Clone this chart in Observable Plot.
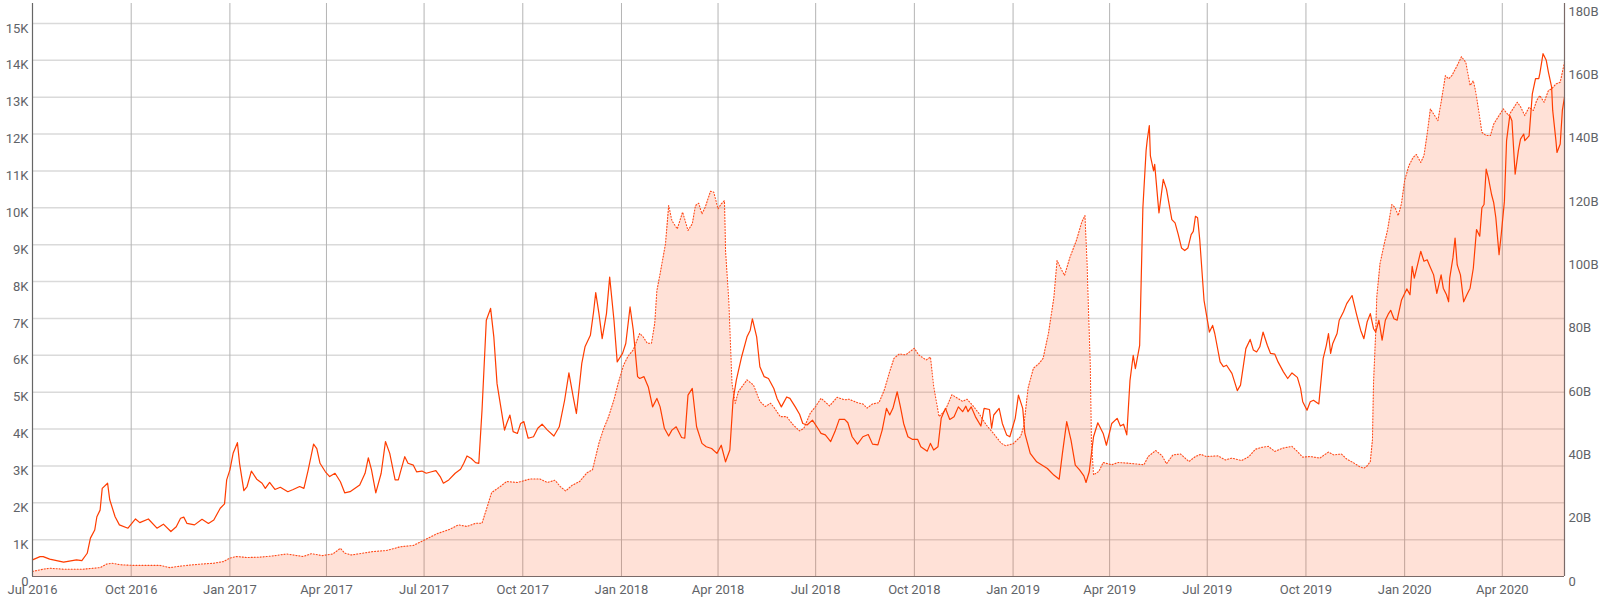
<!DOCTYPE html>
<html><head><meta charset="utf-8">
<script src="https://cdn.jsdelivr.net/npm/d3@7"></script>
<script src="https://cdn.jsdelivr.net/npm/@observablehq/plot@0.6"></script>
<style>body{margin:0;background:#fff;font-family:Roboto,sans-serif}</style>
</head><body><div id="chart"></div>
<script>
// Left-axis series (solid line), values in thousands
const lineDates = ["2016-07-01","2016-07-08","2016-07-11","2016-07-17","2016-07-30","2016-08-11","2016-08-16","2016-08-21","2016-08-24","2016-08-28","2016-08-30","2016-09-02","2016-09-04","2016-09-09","2016-09-11","2016-09-16","2016-09-20","2016-09-28","2016-10-05","2016-10-09","2016-10-17","2016-10-25","2016-10-31","2016-11-07","2016-11-12","2016-11-16","2016-11-19","2016-11-22","2016-11-29","2016-12-06","2016-12-12","2016-12-17","2016-12-23","2016-12-27","2016-12-29","2017-01-01","2017-01-04","2017-01-08","2017-01-10","2017-01-14","2017-01-17","2017-01-21","2017-01-26","2017-01-31","2017-02-03","2017-02-07","2017-02-12","2017-02-17","2017-02-24","2017-03-01","2017-03-07","2017-03-11","2017-03-15","2017-03-20","2017-03-23","2017-03-26","2017-03-31","2017-04-04","2017-04-09","2017-04-14","2017-04-18","2017-04-23","2017-05-02","2017-05-07","2017-05-10","2017-05-13","2017-05-17","2017-05-22","2017-05-26","2017-05-30","2017-06-04","2017-06-07","2017-06-09","2017-06-13","2017-06-16","2017-06-21","2017-06-24","2017-06-29","2017-07-03","2017-07-08","2017-07-12","2017-07-16","2017-07-19","2017-07-24","2017-07-30","2017-08-04","2017-08-07","2017-08-10","2017-08-14","2017-08-18","2017-08-21","2017-08-24","2017-08-28","2017-09-01","2017-09-04","2017-09-07","2017-09-10","2017-09-14","2017-09-16","2017-09-19","2017-09-22","2017-09-26","2017-09-29","2017-10-02","2017-10-06","2017-10-11","2017-10-15","2017-10-19","2017-10-24","2017-10-30","2017-11-04","2017-11-09","2017-11-13","2017-11-17","2017-11-20","2017-11-25","2017-11-28","2017-12-03","2017-12-06","2017-12-08","2017-12-11","2017-12-14","2017-12-18","2017-12-21","2017-12-25","2017-12-28","2018-01-02","2018-01-05","2018-01-09","2018-01-12","2018-01-16","2018-01-18","2018-01-22","2018-01-26","2018-01-30","2018-02-03","2018-02-06","2018-02-10","2018-02-14","2018-02-17","2018-02-21","2018-02-26","2018-03-01","2018-03-04","2018-03-08","2018-03-12","2018-03-17","2018-03-21","2018-03-26","2018-03-31","2018-04-04","2018-04-08","2018-04-12","2018-04-15","2018-04-18","2018-04-23","2018-04-28","2018-05-01","2018-05-03","2018-05-07","2018-05-10","2018-05-14","2018-05-18","2018-05-23","2018-05-26","2018-05-30","2018-06-04","2018-06-07","2018-06-12","2018-06-16","2018-06-19","2018-06-23","2018-06-28","2018-07-03","2018-07-06","2018-07-10","2018-07-15","2018-07-19","2018-07-23","2018-07-28","2018-07-31","2018-08-04","2018-08-09","2018-08-14","2018-08-19","2018-08-23","2018-08-28","2018-09-01","2018-09-05","2018-09-08","2018-09-11","2018-09-15","2018-09-18","2018-09-21","2018-09-25","2018-09-29","2018-10-04","2018-10-07","2018-10-13","2018-10-16","2018-10-19","2018-10-23","2018-10-26","2018-10-30","2018-11-03","2018-11-07","2018-11-11","2018-11-15","2018-11-18","2018-11-20","2018-11-23","2018-11-27","2018-12-02","2018-12-05","2018-12-10","2018-12-12","2018-12-14","2018-12-19","2018-12-22","2018-12-26","2018-12-29","2019-01-03","2019-01-06","2019-01-10","2019-01-12","2019-01-17","2019-01-23","2019-02-02","2019-02-08","2019-02-13","2019-02-16","2019-02-20","2019-02-24","2019-02-28","2019-03-04","2019-03-08","2019-03-10","2019-03-13","2019-03-17","2019-03-21","2019-03-26","2019-03-29","2019-04-03","2019-04-08","2019-04-11","2019-04-14","2019-04-17","2019-04-20","2019-04-23","2019-04-25","2019-04-29","2019-04-30","2019-05-02","2019-05-05","2019-05-06","2019-05-08","2019-05-09","2019-05-12","2019-05-13","2019-05-16","2019-05-17","2019-05-21","2019-05-24","2019-05-29","2019-06-01","2019-06-04","2019-06-07","2019-06-10","2019-06-13","2019-06-16","2019-06-18","2019-06-20","2019-06-22","2019-06-24","2019-06-28","2019-07-03","2019-07-06","2019-07-08","2019-07-13","2019-07-16","2019-07-19","2019-07-24","2019-07-27","2019-07-29","2019-08-01","2019-08-04","2019-08-06","2019-08-10","2019-08-13","2019-08-16","2019-08-19","2019-08-22","2019-08-26","2019-08-29","2019-09-02","2019-09-05","2019-09-10","2019-09-14","2019-09-18","2019-09-23","2019-09-26","2019-09-28","2019-10-02","2019-10-05","2019-10-08","2019-10-13","2019-10-17","2019-10-20","2019-10-22","2019-10-24","2019-10-26","2019-10-30","2019-11-01","2019-11-05","2019-11-08","2019-11-13","2019-11-17","2019-11-21","2019-11-24","2019-11-27","2019-11-30","2019-12-03","2019-12-05","2019-12-08","2019-12-11","2019-12-14","2019-12-17","2019-12-19","2019-12-22","2019-12-25","2019-12-29","2020-01-03","2020-01-06","2020-01-08","2020-01-10","2020-01-13","2020-01-16","2020-01-19","2020-01-22","2020-01-24","2020-01-28","2020-01-31","2020-02-04","2020-02-06","2020-02-09","2020-02-11","2020-02-12","2020-02-15","2020-02-17","2020-02-19","2020-02-22","2020-02-25","2020-02-28","2020-03-02","2020-03-05","2020-03-08","2020-03-11","2020-03-13","2020-03-15","2020-03-17","2020-03-19","2020-03-22","2020-03-24","2020-03-26","2020-03-29","2020-03-31","2020-04-03","2020-04-05","2020-04-08","2020-04-10","2020-04-13","2020-04-16","2020-04-18","2020-04-21","2020-04-22","2020-04-26","2020-04-29","2020-05-02","2020-05-05","2020-05-06","2020-05-09","2020-05-12","2020-05-14","2020-05-17","2020-05-18","2020-05-21","2020-05-22","2020-05-25","2020-05-27","2020-05-29"];
const lineValues = [0.45,0.54,0.54,0.47,0.39,0.45,0.43,0.63,1.04,1.26,1.62,1.80,2.39,2.53,2.08,1.62,1.40,1.31,1.56,1.46,1.56,1.31,1.42,1.22,1.35,1.58,1.61,1.44,1.40,1.55,1.44,1.53,1.85,1.97,2.62,2.89,3.34,3.63,3.07,2.33,2.44,2.86,2.64,2.53,2.39,2.55,2.36,2.42,2.30,2.36,2.44,2.39,2.89,3.59,3.47,3.07,2.84,2.71,2.80,2.57,2.27,2.30,2.48,2.80,3.22,2.89,2.27,2.80,3.66,3.34,2.62,2.62,2.84,3.25,3.07,3.02,2.84,2.86,2.80,2.84,2.87,2.71,2.53,2.62,2.80,2.91,3.07,3.27,3.20,3.09,3.07,4.51,6.95,7.27,6.50,5.23,4.69,3.97,4.15,4.38,3.93,3.88,4.15,4.20,3.75,3.79,4.02,4.13,3.97,3.81,4.06,4.78,5.52,4.87,4.42,5.78,6.23,6.54,7.18,7.70,7.13,6.45,7.13,8.12,6.95,5.82,6.05,6.32,7.31,6.68,5.42,5.37,5.42,5.14,4.60,4.83,4.60,4.02,3.81,3.97,4.06,3.77,3.75,4.92,5.10,4.06,3.61,3.52,3.47,3.34,3.56,3.11,3.43,4.78,5.32,5.96,6.50,6.68,6.99,6.50,5.69,5.42,5.37,5.10,4.83,4.60,4.87,4.83,4.60,4.40,4.15,4.11,4.24,4.02,3.88,3.84,3.66,3.93,4.26,4.26,4.17,3.79,3.59,3.79,3.85,3.59,3.57,3.97,4.56,4.38,4.56,5.01,4.60,4.15,3.79,3.72,3.72,3.52,3.40,3.61,3.43,3.52,4.29,4.56,4.26,4.33,4.60,4.47,4.62,4.47,4.60,4.33,4.08,4.56,4.53,4.02,4.38,4.56,4.15,3.84,3.79,4.29,4.92,4.56,3.88,3.34,3.11,2.93,2.75,2.64,3.34,4.20,3.70,3.02,2.89,2.73,2.55,2.84,3.79,4.17,3.88,3.56,4.15,4.29,4.08,4.13,3.84,5.32,6.00,5.64,6.27,7.50,10.00,11.55,11.82,12.23,11.41,11.00,11.18,10.18,9.86,10.77,10.50,9.68,9.59,9.27,8.91,8.84,8.91,9.27,9.36,9.77,9.73,9.14,7.49,6.63,6.81,6.59,5.82,5.69,5.73,5.51,5.23,5.04,5.19,5.78,6.18,6.43,6.14,6.09,6.23,6.63,6.27,6.05,6.03,5.82,5.55,5.37,5.52,5.40,5.10,4.74,4.51,4.74,4.78,4.68,5.91,6.27,6.59,6.05,6.32,6.59,6.95,7.18,7.40,7.62,7.13,6.68,6.45,6.90,7.13,6.72,6.63,6.95,6.41,6.95,7.13,7.22,6.99,6.95,7.49,7.80,7.64,8.41,8.09,8.45,8.82,8.55,8.59,8.45,8.18,7.68,8.18,7.82,7.64,7.45,8.09,8.64,9.18,8.45,8.18,7.45,7.64,7.82,8.36,9.41,9.23,10.00,10.09,11.05,10.82,10.36,10.14,9.73,8.73,9.27,10.18,11.82,12.50,12.36,10.91,11.55,11.86,12.00,11.82,11.95,13.09,13.50,13.50,13.64,14.18,14.00,13.68,13.27,12.64,11.82,11.50,11.73,12.64,13.00];

// Right-axis series (dotted area), values in billions
const areaDates = ["2016-07-01","2016-07-11","2016-07-17","2016-07-30","2016-08-17","2016-09-02","2016-09-08","2016-09-13","2016-09-21","2016-10-03","2016-10-19","2016-10-28","2016-11-06","2016-11-12","2016-11-22","2016-12-04","2016-12-17","2016-12-26","2017-01-01","2017-01-07","2017-01-17","2017-01-29","2017-02-10","2017-02-23","2017-03-01","2017-03-10","2017-03-18","2017-03-28","2017-04-07","2017-04-14","2017-04-18","2017-04-24","2017-05-02","2017-05-15","2017-05-27","2017-06-09","2017-06-21","2017-07-03","2017-07-13","2017-07-25","2017-08-02","2017-08-10","2017-08-18","2017-08-24","2017-08-28","2017-09-02","2017-09-10","2017-09-16","2017-09-26","2017-10-08","2017-10-17","2017-10-24","2017-10-31","2017-11-05","2017-11-10","2017-11-16","2017-11-23","2017-11-30","2017-12-05","2017-12-11","2017-12-15","2017-12-20","2017-12-25","2017-12-29","2018-01-03","2018-01-07","2018-01-12","2018-01-18","2018-01-21","2018-01-25","2018-01-29","2018-02-01","2018-02-03","2018-02-06","2018-02-11","2018-02-14","2018-02-17","2018-02-22","2018-02-27","2018-03-04","2018-03-08","2018-03-11","2018-03-14","2018-03-17","2018-03-20","2018-03-25","2018-03-28","2018-04-01","2018-04-04","2018-04-07","2018-04-08","2018-04-11","2018-04-14","2018-04-17","2018-04-20","2018-04-28","2018-05-04","2018-05-10","2018-05-15","2018-05-20","2018-05-23","2018-05-29","2018-06-04","2018-06-10","2018-06-16","2018-06-20","2018-06-26","2018-07-01","2018-07-06","2018-07-14","2018-07-21","2018-07-28","2018-08-01","2018-08-09","2018-08-14","2018-08-18","2018-08-23","2018-08-29","2018-09-03","2018-09-08","2018-09-12","2018-09-17","2018-09-23","2018-10-01","2018-10-05","2018-10-12","2018-10-16","2018-10-19","2018-10-24","2018-10-30","2018-11-05","2018-11-08","2018-11-15","2018-11-19","2018-11-24","2018-11-30","2018-12-07","2018-12-13","2018-12-21","2018-12-25","2019-01-01","2019-01-08","2019-01-11","2019-01-15","2019-01-20","2019-01-25","2019-01-29","2019-02-03","2019-02-08","2019-02-11","2019-02-14","2019-02-18","2019-02-23","2019-03-01","2019-03-06","2019-03-09","2019-03-11","2019-03-12","2019-03-14","2019-03-15","2019-03-17","2019-03-22","2019-03-26","2019-04-03","2019-04-09","2019-04-18","2019-05-03","2019-05-07","2019-05-14","2019-05-20","2019-05-24","2019-05-30","2019-06-06","2019-06-14","2019-06-20","2019-06-25","2019-06-30","2019-07-11","2019-07-18","2019-07-24","2019-08-02","2019-08-09","2019-08-15","2019-08-21","2019-08-27","2019-09-02","2019-09-09","2019-09-18","2019-09-23","2019-09-28","2019-10-05","2019-10-14","2019-10-22","2019-10-27","2019-11-03","2019-11-08","2019-11-14","2019-11-20","2019-11-24","2019-11-27","2019-11-30","2019-12-02","2019-12-03","2019-12-05","2019-12-06","2019-12-09","2019-12-13","2019-12-16","2019-12-20","2019-12-23","2019-12-26","2019-12-29","2020-01-01","2020-01-05","2020-01-09","2020-01-12","2020-01-16","2020-01-19","2020-01-22","2020-01-25","2020-01-28","2020-02-01","2020-02-04","2020-02-08","2020-02-11","2020-02-14","2020-02-19","2020-02-23","2020-02-27","2020-03-02","2020-03-05","2020-03-07","2020-03-10","2020-03-13","2020-03-17","2020-03-21","2020-03-24","2020-03-29","2020-04-02","2020-04-07","2020-04-10","2020-04-15","2020-04-18","2020-04-22","2020-04-26","2020-04-30","2020-05-03","2020-05-06","2020-05-10","2020-05-14","2020-05-17","2020-05-21","2020-05-25","2020-05-29"];
const areaValues = [1.6,2.3,2.6,2.3,2.3,2.8,3.9,4.2,3.7,3.5,3.5,3.5,2.8,3.1,3.5,3.9,4.2,4.7,5.8,6.3,6.0,6.1,6.5,7.1,6.8,6.3,7.2,6.6,7.1,8.9,7.4,6.8,7.2,7.9,8.2,9.4,9.8,11.8,13.5,14.9,16.3,15.8,16.8,16.8,21.1,26.5,28.4,30.0,29.7,30.8,30.8,29.7,30.4,28.4,27.0,28.8,30.0,32.8,33.7,42.1,46.3,50.5,55.8,61.1,66.8,69.5,71.6,76.8,75.8,73.7,73.7,80.0,90.3,95.6,105.0,117.2,112.4,109.8,115.1,109.3,111.4,117.2,117.9,114.5,116.6,121.7,121.4,116.1,117.7,118.7,102.9,87.2,61.0,54.7,58.4,62.1,60.5,55.3,53.7,54.7,53.5,50.5,50.5,47.9,46.0,46.8,51.6,53.7,56.3,53.9,56.6,55.8,56.0,54.9,54.5,53.2,54.5,54.9,58.9,64.7,68.9,70.3,70.0,72.1,70.0,68.4,69.3,60.0,50.5,52.6,57.4,56.8,55.3,56.0,54.2,51.6,47.9,45.5,42.1,41.3,41.9,44.2,47.4,59.5,65.8,67.2,68.9,76.8,88.0,99.8,97.7,95.1,100.8,106.1,111.9,114.0,98.7,87.2,66.3,43.2,32.1,33.2,36.0,35.3,36.0,35.8,35.3,37.9,39.8,38.1,35.6,38.4,38.7,36.3,37.9,38.6,37.9,38.1,36.8,37.4,36.6,37.9,40.2,40.8,41.1,39.5,40.5,41.1,39.5,37.7,37.9,37.4,39.3,38.4,38.7,37.1,36.0,34.7,34.2,34.9,36.3,43.2,61.1,76.8,88.2,98.7,105.1,109.3,117.5,116.6,114.0,117.7,125.1,129.8,132.4,133.3,130.8,132.9,139.8,147.7,146.1,144.0,149.8,158.2,157.2,158.2,161.4,164.2,162.4,155.1,156.6,153.5,147.2,140.3,139.3,139.3,142.9,145.6,147.7,145.6,147.2,149.8,148.4,145.6,148.2,147.2,150.3,151.9,149.8,153.5,154.0,155.6,156.1,162.4];

// Axis ticks
const leftTicks = [0,1,2,3,4,5,6,7,8,9,10,11,12,13,14,15];        // thousands
const rightTicks = [0,20,40,60,80,100,120,140,160,180];           // billions
const quarterTicks = ["2016-07-01","2016-10-01","2017-01-01","2017-04-01","2017-07-01","2017-10-01","2018-01-01","2018-04-01","2018-07-01","2018-10-01","2019-01-01","2019-04-01","2019-07-01","2019-10-01","2020-01-01","2020-04-01"];
const xStart = "2016-07-01", xEnd = "2020-05-29";

const LEFT_MAX = 15.54;   // thousands at top of plot
const RIGHT_MAX = 181;    // billions at top of plot
const toLeft = b => b * LEFT_MAX / RIGHT_MAX;

const lineData = lineDates.map((d, i) => ({date: new Date(d), v: lineValues[i]}));
const areaData = areaDates.map((d, i) => ({date: new Date(d), v: toLeft(areaValues[i])}));
const qDates = quarterTicks.map(d => new Date(d));

const chart = Plot.plot({
  width: 1600, height: 601,
  marginLeft: 32, marginRight: 36, marginTop: 3, marginBottom: 25,
  style: {fontFamily: "Roboto, sans-serif", fontSize: "13px", color: "#5f6368", background: "#fff", overflow: "visible"},
  x: {type: "utc", domain: [new Date(xStart), new Date(xEnd)]},
  y: {domain: [0, LEFT_MAX]},
  marks: [
    Plot.gridY(leftTicks.slice(1), {stroke: "#dadada", strokeOpacity: 1, strokeWidth: 1.5}),
    Plot.gridX(qDates, {stroke: "#b4b4b4", strokeOpacity: 1, strokeWidth: 1}),
    Plot.areaY(areaData, {x: "date", y: "v", fill: "#ff5722", fillOpacity: 0.18}),
    Plot.lineY(areaData, {x: "date", y: "v", stroke: "#ff4a1a", strokeWidth: 1.1, strokeDasharray: "1,2"}),
    Plot.lineY(lineData, {x: "date", y: "v", stroke: "#ff3d00", strokeWidth: 1.2}),
    Plot.ruleX([new Date(xStart)], {stroke: "#666", strokeWidth: 1.2}),
    Plot.ruleX([new Date(xEnd)], {stroke: "#7a6a68", strokeWidth: 1.2}),
    Plot.ruleY([0], {stroke: "#7a6a68", strokeWidth: 1.2}),
    Plot.axisY(leftTicks, {anchor: "left", tickSize: 0, tickPadding: 4, dy: 5, label: null,
      tickFormat: d => d === 0 ? "0" : d + "K"}),
    Plot.axisY(rightTicks.map(toLeft), {anchor: "right", tickSize: 0, tickPadding: 4, dy: 5, label: null,
      tickFormat: d => { const b = Math.round(d * RIGHT_MAX / LEFT_MAX); return b === 0 ? "0" : b + "B"; }}),
    Plot.axisX(qDates, {anchor: "bottom", tickSize: 0, tickPadding: 8, label: null, tickFormat: d3.utcFormat("%b %Y")})
  ]
});
document.getElementById("chart").appendChild(chart);
</script>
</body></html>
